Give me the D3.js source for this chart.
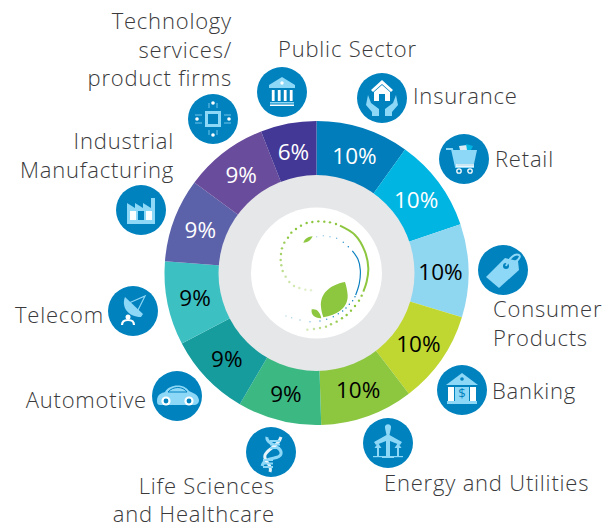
<!DOCTYPE html>
<html><head><meta charset="utf-8">
<script src="https://cdn.jsdelivr.net/npm/d3@7"></script>
<style>html,body{margin:0;padding:0;background:#fff}svg{display:block}text{font-family:"Open Sans",sans-serif}</style>
</head><body><svg id="c" width="614" height="528"></svg>
<script>
const sectors=["Insurance","Retail","Consumer Products","Banking","Energy and Utilities","Life Sciences and Healthcare","Automotive","Telecom","Industrial Manufacturing","Technology services/ product firms","Public Sector"];
const shares=[10,10,10,10,10,9,9,9,9,9,6];
const sliceColors=["#007dba","#00b5e2","#8fd6f0","#bfd730","#8dc63f","#3cb982","#169c9c","#3dc0c2","#5c62aa","#6a4c9c","#433895"];
const valueColors=["#fff","#fff","#000","#000","#000","#000","#000","#000","#fff","#fff","#fff"];
const labelLines=[["Insurance"],["Retail"],["Consumer","Products"],["Banking"],["Energy and Utilities"],["Life Sciences","and Healthcare"],["Automotive"],["Telecom"],["Industrial","Manufacturing"],["Technology","services/","product firms"],["Public Sector"]];
const labelAnchor=[[413,104,"start"],[495,167,"start"],[493,317,"start"],[492,399,"start"],[384,491,"start"],[275,494,"end"],[147,408,"end"],[104,323,"end"],[174,149,"end"],[232,29,"end"],[278,57,"start"]];
const labelGap=[0,0,28.5,0,0,27.5,0,0,28.5,28.5,0];
const iconAt=[[382,98],[464,159],[503,270],[462,390],[388,443],[271,452],[177,396],[133,311],[141,210],[213,119],[282,92]];
const icons=["house","cart","tag","bank","wind","dna","car","dish","factory","chip","temple"];

const svg=d3.select("#c"),cx=316.5,cy=273;
const pie=d3.pie().sort(null).value(d=>d)(shares);
const arc=d3.arc().innerRadius(96).outerRadius(152);
const g=svg.append("g").attr("transform",`translate(${cx},${cy})`);
g.selectAll("path.s").data(pie).join("path").attr("class","s").attr("d",arc).attr("fill",(d,i)=>sliceColors[i]);
g.append("circle").attr("r",98).attr("fill","#e6e7e9");
g.append("circle").attr("r",65.5).attr("fill","#fff");
const lab=d3.arc().innerRadius(124).outerRadius(124);
g.selectAll("text.v").data(pie).join("text").attr("class","v")
 .attr("transform",d=>`translate(${lab.centroid(d)})`).attr("text-anchor","middle").attr("dy","0.38em")
 .attr("font-size",22.5).attr("fill",(d,i)=>valueColors[i]).text(d=>d.value+"%");

// logo (traced in crop coordinates)
const L=svg.append("g").attr("transform","translate(220,180) scale(0.3333)");
const gr="#8dc63f",bl="#0a7fc0";
const line=d3.line().curve(d3.curveCatmullRom);
L.append("path").attr("d",line([[360,137],[405,165],[435,215],[445,265],[440,305],[430,335]])).attr("fill","none").attr("stroke",gr).attr("stroke-width",6);
L.append("path").attr("d",line([[397,213],[414,238],[421,270],[418,310],[407,345]])).attr("fill","none").attr("stroke",bl).attr("stroke-width",3.5);
const greenDots=[[348,132,1],[330,127,1],[313,125,1],[295,124,1],[277,126,1],[260,129,1],[243,137,1],[228,147,1],[214,158,1],[204,173,1],[193,188,.9],[186,205,.85],[183,222,.8],[182,240,.7],[184,256,.65],[188,273,.6],[197,290,.5],[208,306,.45],[222,318,.4],[238,324,.35],[256,329,.3],[273,331,.25],[425,347,1],[417,362,1],[405,378,1],[393,392,1],[380,405,1],[366,415,.95],[350,425,.9],[333,433,.8],[318,440,.7],[300,444,.6],[282,447,.5],[262,449,.4]];
L.selectAll("circle.g").data(greenDots).join("circle").attr("class","g").attr("cx",d=>d[0]).attr("cy",d=>d[1]).attr("r",3.6).attr("fill",gr).attr("opacity",d=>d[2]);
const blueDots=[[385,200,1],[370,187,.8],[350,175,.6],[330,170,.45],[310,167,.4],[290,170,.3],[405,350,1],[398,362,1],[388,373,1],[378,384,1],[368,393,1],[355,401,.9],[340,410,.9],[320,418,.8],[300,423,.7],[270,425,.5],[240,420,.4],[215,413,.35],[198,408,.3]];
L.selectAll("circle.b").data(blueDots).join("circle").attr("class","b").attr("cx",d=>d[0]).attr("cy",d=>d[1]).attr("r",2.2).attr("fill",bl).attr("opacity",d=>d[2]);
L.append("path").attr("fill",gr).attr("d","M375,306C330,315 300,340 303,380C304,395 308,405 310,412C350,405 385,385 383,345C382,330 378,315 375,306Z");
L.append("path").attr("fill",gr).attr("d","M275,388C290,385 300,395 304,415C285,416 272,405 275,388Z");
L.append("path").attr("fill",gr).attr("d","M250,188C255,175 265,170 278,169C272,182 262,188 250,188Z");

// icons
const lt="#8dd7f7",dk="#0082be",wh="#ffffff";
const draw={
 house(s){s.append("path").attr("fill",wh).attr("d","M0,-18L-11,-8L-9,-6L0,-14L9,-6L11,-8Z");
  s.append("path").attr("fill",wh).attr("d","M-8,-6L0,-13L8,-6V3H3V-4H-3V3H-8Z");
  s.append("path").attr("fill",lt).attr("d","M-14,-3L-11,5L-3,11V18H-10V14L-16,7Z M14,-3L11,5L3,11V18H10V14L16,7Z");},
 cart(s){s.append("path").attr("fill",lt).attr("d","M-12,-9H13L10,5H-8Z");
  s.append("path").attr("fill",wh).attr("opacity",.85).attr("d","M-5,-13L3,-14L5,-9H-4Z");
  s.append("path").attr("fill","#00b5e2").attr("d","M2,-15L9,-13L7,-9H3Z");
  s.append("path").attr("fill","none").attr("stroke",lt).attr("stroke-width",2).attr("d","M-18,-10H-12L-8,8H10");
  s.append("path").attr("fill",wh).attr("opacity",.8).attr("d","M-8,5H10V8H-8Z");
  [-5,6].forEach(x=>s.append("circle").attr("cx",x).attr("cy",12).attr("r",2.2).attr("fill","none").attr("stroke",wh).attr("stroke-width",1.3));},
 tag(s){s.append("path").attr("fill",lt).attr("d","M2,-12L15,-9L16,0L-4,18L-17,7Z");
  s.append("circle").attr("cx",3).attr("cy",-4).attr("r",3).attr("fill",dk);
  s.append("path").attr("fill","none").attr("stroke",lt).attr("stroke-width",2).attr("d","M3,-4C6,-12 12,-17 16,-15C19,-13 13,-7 8,-7");},
 bank(s){s.append("path").attr("fill",lt).attr("d","M0,-17L16,-5H-16Z");s.append("circle").attr("cy",-11).attr("r",1.8).attr("fill",dk);
  s.append("rect").attr("x",-14).attr("y",-3).attr("width",6).attr("height",14).attr("fill",wh);
  s.append("rect").attr("x",8).attr("y",-3).attr("width",6).attr("height",14).attr("fill",wh);
  s.append("rect").attr("x",-7).attr("y",-3).attr("width",14).attr("height",14).attr("fill",lt);
  s.append("rect").attr("x",-15).attr("y",11).attr("width",30).attr("height",3).attr("fill",lt);
  s.append("text").attr("y",8).attr("text-anchor","middle").attr("font-size",13).attr("fill",dk).text("$");},
 wind(s){s.append("path").attr("fill",lt).attr("d","M-3,-15C-4,-20 4,-20 3,-15L1.5,-8L14,-1L12,2L2,-2V13H6V15H-6V13H-2V-2L-12,2L-14,-1L-1.5,-8Z");
  [-10,10].forEach(x=>{s.append("path").attr("fill",lt).attr("d",`M${x},0l3.5,5h-2.5v8h-2v-8h-2.5Z`);});
  s.append("rect").attr("x",-15).attr("y",13).attr("width",30).attr("height",1.2).attr("fill",lt);},
 dna(s){s.append("path").attr("fill","none").attr("stroke",lt).attr("stroke-width",3).attr("d","M-4,-15C-6,-8 12,-6 10,2C8,9 -6,3 -9,14");
  s.append("path").attr("fill","none").attr("stroke",wh).attr("stroke-width",3).attr("opacity",.9).attr("d","M10,-15C7,-5 -3,-4 -6,3C-8,10 2,12 -1,20");
  [-12,-8.5,-5,7,10.5,14].forEach((y,i)=>s.append("rect").attr("x",i<3?-1:-8).attr("y",y).attr("width",10).attr("height",2).attr("fill",lt));},
 car(s){s.append("path").attr("fill",lt).attr("d","M-20,5C-20,-2 -15,-3 -12,-4C-8,-12 7,-13 12,-5C16,-3 21,-2 22,4C22,8 19,9 17,9H-17C-19,9 -20,8 -20,5Z");
  s.append("path").attr("fill","none").attr("stroke",dk).attr("stroke-width",1).attr("d","M-9,-4C-4,-10 6,-10 10,-4Z");
  [-11,12].forEach(x=>{s.append("circle").attr("cx",x).attr("cy",5).attr("r",4.6).attr("fill",wh);s.append("circle").attr("cx",x).attr("cy",5).attr("r",2.4).attr("fill",dk);});},
 dish(s){s.append("path").attr("fill",lt).attr("d","M-8,-14C-12,-4 -5,6 8,6L10,3Z");
  s.append("path").attr("fill","none").attr("stroke",lt).attr("stroke-width",1.2).attr("d","M-4,-8L12,-15L4,1");
  s.append("circle").attr("cx",-5).attr("cy",6).attr("r",2.5).attr("fill",wh);
  s.append("path").attr("fill","none").attr("stroke",wh).attr("stroke-width",2.2).attr("d","M-11,14C-11,9 -7,9 -5,9C-3,9 1,9 1,14");},
 factory(s){s.append("path").attr("fill",lt).attr("d","M-14,-7L-6,-2V-7L2,-2V-7L10,-2L10,-12H14V14H-14Z");
  [-11,-3,5].forEach((x,i)=>s.append("rect").attr("x",x).attr("y",1).attr("width",6).attr("height",9).attr("fill",i==1?dk:wh));},
 chip(s){s.append("rect").attr("x",-8).attr("y",-8).attr("width",16).attr("height",16).attr("fill",lt);
  s.append("rect").attr("x",-5).attr("y",-5).attr("width",10).attr("height",10).attr("fill",dk);
  [[0,-16],[0,16],[-16,0],[16,0]].forEach(p=>s.append("circle").attr("cx",p[0]).attr("cy",p[1]).attr("r",1.8).attr("fill",wh));
  s.append("path").attr("stroke",lt).attr("stroke-width",.8).attr("d","M-4,-11V-16M4,-11V-16M-4,11V16M4,11V16M-11,-4H-18M-11,4H-18M11,-4H18M11,4H18");},
 temple(s){s.append("path").attr("fill",lt).attr("d","M0,-15L13,-7V-4H-13V-7Z");s.append("circle").attr("cy",-9).attr("r",1.7).attr("fill",wh);
  [-10,-4,2,8].forEach(x=>s.append("rect").attr("x",x-.2).attr("y",-2).attr("width",2.8).attr("height",11).attr("fill",wh));
  s.append("rect").attr("x",-12).attr("y",10).attr("width",24).attr("height",1.5).attr("fill",lt);
  s.append("rect").attr("x",-12).attr("y",12.5).attr("width",24).attr("height",1.5).attr("fill",wh);}
};
const ig=svg.selectAll("g.i").data(icons).join("g").attr("class","i").attr("transform",(d,i)=>`translate(${iconAt[i]})`);
ig.append("circle").attr("r",25).attr("fill",dk);
ig.each(function(d){draw[d](d3.select(this));});

// labels
svg.selectAll("text.l").data(sectors).join("text").attr("class","l")
 .attr("x",(d,i)=>labelAnchor[i][0]).attr("y",(d,i)=>labelAnchor[i][1]).attr("text-anchor",(d,i)=>labelAnchor[i][2])
 .attr("font-size",22).attr("font-weight",300).attr("letter-spacing",0.8).attr("fill","#3a3a3c")
 .each(function(d,i){const t=d3.select(this);
   labelLines[i].forEach((s,j)=>t.append("tspan").attr("x",labelAnchor[i][0]).attr("dy",j?labelGap[i]:0).text(s));});
</script></body></html>
